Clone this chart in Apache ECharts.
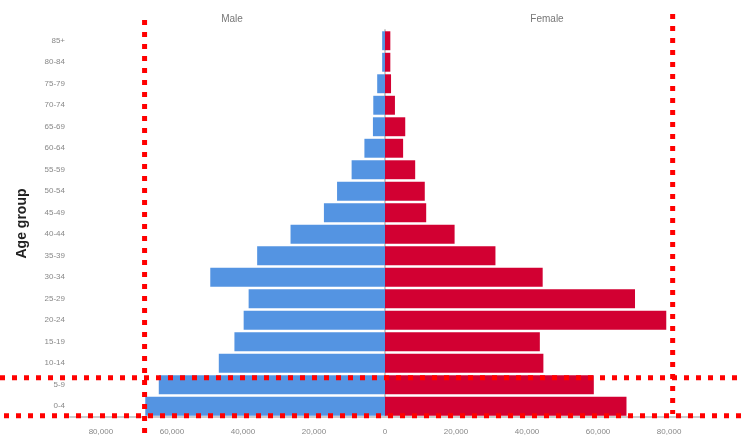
<!DOCTYPE html>
<html>
<head>
<meta charset="utf-8">
<script src="https://cdn.jsdelivr.net/npm/echarts@6/dist/echarts.min.js"></script>
<style>
  html, body {margin: 0; padding: 0; background: #fff;}
  #chart {width: 742px; height: 436px;}
</style>
</head>
<body>
<div id="chart"></div>
<script>
// age groups, bottom to top
const ageGroups = ['0-4', '5-9', '10-14', '15-19', '20-24', '25-29', '30-34', '35-39', '40-44',
  '45-49', '50-54', '55-59', '60-64', '65-69', '70-74', '75-79', '80-84', '85+'];
// counts (male drawn to the left)
const male = [67500, 63700, 46800, 42400, 39800, 38400, 49200, 36000, 26600,
  17200, 13500, 9400, 5800, 3400, 3300, 2200, 800, 800];
const female = [68000, 58800, 44600, 43600, 79200, 70400, 44400, 31100, 19600,
  11600, 11200, 8500, 5100, 5700, 2800, 1700, 1500, 1500];
const xTicks = [-80000, -60000, -40000, -20000, 0, 20000, 40000, 60000, 80000];
// red dotted highlight lines drawn over the picture
const markX = [-67700, 81000];      // people
const markY = [1.83, 0.06];         // in age-group bands from the bottom

const chart = echarts.init(document.getElementById('chart'));
const font = 'Liberation Sans Narrow, Liberation Sans, sans-serif';
const fmt = v => Math.abs(v).toLocaleString('en-US');

let option = {
  animation: false,
  title: [
    {text: 'Male', left: 227, top: 9, textAlign: 'center',
      textStyle: {fontSize: 10, fontWeight: 'normal', color: '#777', fontFamily: font}},
    {text: 'Female', left: 542, top: 9, textAlign: 'center',
      textStyle: {fontSize: 10, fontWeight: 'normal', color: '#777', fontFamily: font}}
  ],
  grid: {left: 70, right: 42, top: 30, bottom: 19},
  xAxis: {
    type: 'value',
    min: -88700,
    max: 88700,
    splitLine: {show: false},
    axisTick: {show: false},
    axisLine: {show: true, lineStyle: {color: '#ccc', width: 2}},
    axisLabel: {
      fontSize: 8, color: '#888', fontFamily: font, margin: 11,
      customValues: xTicks,
      formatter: fmt
    }
  },
  yAxis: [
    {
      type: 'category',
      data: ageGroups,
      name: 'Age group',
      nameLocation: 'middle',
      nameGap: 41,
      nameTextStyle: {fontSize: 14, fontWeight: 'bold', color: '#222', fontFamily: 'Liberation Sans, sans-serif'},
      axisTick: {show: false},
      axisLine: {show: true, lineStyle: {color: '#ccc', width: 2}},
      axisLabel: {fontSize: 8, color: '#888', fontFamily: font, margin: 5}
    },
    {type: 'value', min: 0, max: ageGroups.length, show: false}
  ],
  series: [
    {
      name: 'Male',
      type: 'bar',
      data: male.map(v => -v),
      barGap: '-100%',
      barCategoryGap: '12%',
      itemStyle: {color: '#5494E2'}
    },
    {
      name: 'Female',
      type: 'bar',
      data: female,
      barCategoryGap: '12%',
      itemStyle: {color: '#D20032'}
    }
  ]
};
chart.setOption(option);

// highlight lines, placed through the axes
const dotted = {stroke: '#ff0000', lineWidth: 5, lineDash: [5, 7], lineCap: 'butt'};
const lines = [];
const xa = chart.convertToPixel({xAxisIndex: 0}, markX[0]);
const xb = chart.convertToPixel({xAxisIndex: 0}, markX[1]);
const ya = chart.convertToPixel({yAxisIndex: 1}, markY[0]);
const yb = chart.convertToPixel({yAxisIndex: 1}, markY[1]);
lines.push({type: 'line', z: 100, shape: {x1: xa, y1: 20, x2: xa, y2: 436}, style: dotted});
lines.push({type: 'line', z: 100, shape: {x1: xb, y1: 14, x2: xb, y2: 414}, style: dotted});
lines.push({type: 'line', z: 100, shape: {x1: 0, y1: ya, x2: 742, y2: ya}, style: dotted});
lines.push({type: 'line', z: 100, shape: {x1: 4, y1: yb, x2: 742, y2: yb}, style: dotted});
chart.setOption({graphic: lines});
</script>
</body>
</html>
